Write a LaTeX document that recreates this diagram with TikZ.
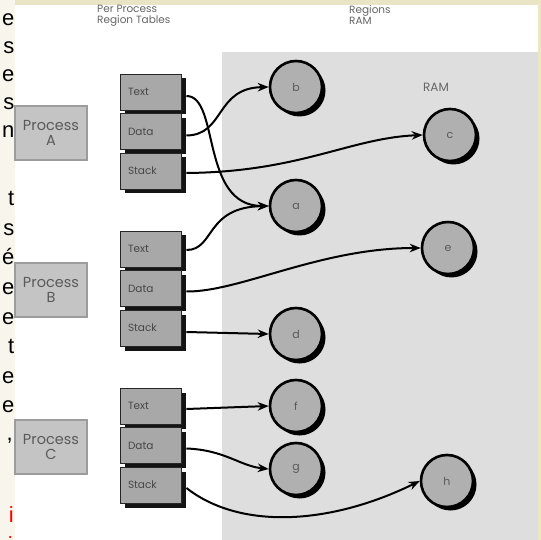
\documentclass[tikz,border=0pt]{standalone}
\usepackage{fontspec}
\setmainfont{Poppins}
\newfontfamily\arialf{Liberation Sans}
\usetikzlibrary{arrows.meta,shadows}

\definecolor{beigeL}{HTML}{F7F5EC}
\definecolor{beigeT}{HTML}{E9E4C4}
\definecolor{beigeR}{HTML}{ECE7C2}
\definecolor{ramgray}{HTML}{DEDEDE}
\definecolor{procfill}{HTML}{C4C4C4}
\definecolor{procline}{HTML}{9C9C9C}
\definecolor{regfill}{HTML}{A8A8A8}
\definecolor{circfill}{HTML}{B0B0B0}
\definecolor{txtgray}{HTML}{5A5A5A}

\begin{document}
\begin{tikzpicture}[x=1pt,y=-1pt,
 procbox/.style={draw=procline, line width=1.2pt, fill=procfill, minimum width=72pt, minimum height=54pt, inner sep=0pt, align=center, text=txtgray, font=\fontsize{14.5}{15}\selectfont},
 regbox/.style={draw=black!85, line width=0.9pt, fill=regfill, minimum width=61pt, minimum height=36pt, inner sep=0pt, text=black!72, font=\fontsize{10.5}{11}\selectfont, drop shadow={shadow xshift=5pt, shadow yshift=-4.5pt, fill=black!92, opacity=1}, text width=45pt, align=left},
 ramc/.style={circle, draw=black, line width=2.6pt, fill=circfill, minimum size=52pt, inner sep=0pt, text=txtgray, font=\fontsize{11}{11}\selectfont, drop shadow={shadow xshift=3.5pt, shadow yshift=-3.5pt, fill=black, opacity=1}},
 conn/.style={line width=2pt, -{Stealth[length=11pt,width=8.5pt]}},
 hdr/.style={anchor=north west, align=left, text=black!60, font=\fontsize{10.5}{11}\selectfont, inner sep=0pt},
 side/.style={anchor=base east, inner sep=0pt, font=\arialf\fontsize{22}{22}\selectfont}
]
\useasboundingbox (0,0) rectangle (541,540);
% backgrounds
\fill[white] (0,0) rectangle (541,540);
\fill[beigeL] (0,0) rectangle (15,540);
\fill[beigeT] (15,0) rectangle (541,5);
\fill[beigeR] (538,0) rectangle (541,540);
\fill[ramgray] (222,52) rectangle (538,540);

% cut-off side text
\foreach \k/\ch in {0/e,1/s,2/e,3/s,4/n}
  \node[side] (L\k) at (14.5, 25.7+28*\k) {\ch};
\foreach \k/\ch in {0/t,1/s,2/é,3/e,4/e,5/t,6/e,7/e}
  \node[side] (M\k) at (14.5, 205.7+29.6*\k) {\ch};
\node[side] (Mcomma) at (13, 440) {,};
\node[side, text=red] (R1) at (14, 522.7) {i};
\node[side, text=red] (R2) at (13, 552.3) {i};

% headers
\node[hdr] (h1) at (97,5) {Per Process\\Region Tables};
\node[hdr] (h2) at (349,5) {Regions\\RAM};
\node[text=black!60, font=\fontsize{12}{12}\selectfont, inner sep=0pt] (ramlbl) at (436,87) {RAM};

% process boxes
\node[procbox] (pA) at (51,133) {Process\\A};
\node[procbox] (pB) at (51,290) {Process\\B};
\node[procbox] (pC) at (51,447) {Process\\C};

% region tables
\foreach \g/\off in {A/0,B/157,C/314}{
  \node[regbox] (t\g) at (150.5, 92+\off) {Text};
  \node[regbox] (d\g) at (150.5, 131.5+\off) {Data};
  \node[regbox] (s\g) at (150.5, 171+\off) {Stack};
}

% RAM regions
\node[ramc] (b) at (296,87) {b};
\node[ramc] (c) at (450,135) {c};
\node[ramc] (a) at (296,206) {a};
\node[ramc] (e) at (448,248) {e};
\node[ramc] (d) at (296,334) {d};
\node[ramc] (f) at (296,406) {f};
\node[ramc] (g) at (296,469) {g};
\node[ramc] (h) at (447,481) {h};

% connectors
\draw[conn] ([shift={(5,4)}]tA.east) .. controls (220,96) and (200,206) .. (a.west);
\draw[conn] ([shift={(5,4)}]dA.east) .. controls (225,135) and (215,88) .. (b.west);
\draw[conn] ([shift={(5,2)}]sA.east) .. controls (300,172) and (350,138) .. (c.west);
\draw[conn] ([shift={(5,1)}]tB.east) .. controls (215,250) and (205,207) .. (a.west);
\draw[conn] ([shift={(5,3)}]dB.east) .. controls (240,292) and (320,248) .. (e.west);
\draw[conn] ([shift={(5,4)}]sB.east) -- (d.west);
\draw[conn] ([shift={(5,3)}]tC.east) -- (f.west);
\draw[conn] ([shift={(5,3)}]dC.east) .. controls (225,450) and (240,466) .. (g.west);
\draw[conn] ([shift={(5,3)}]sC.east) .. controls (240,530) and (330,525) .. (h.west);
\end{tikzpicture}
\end{document}
